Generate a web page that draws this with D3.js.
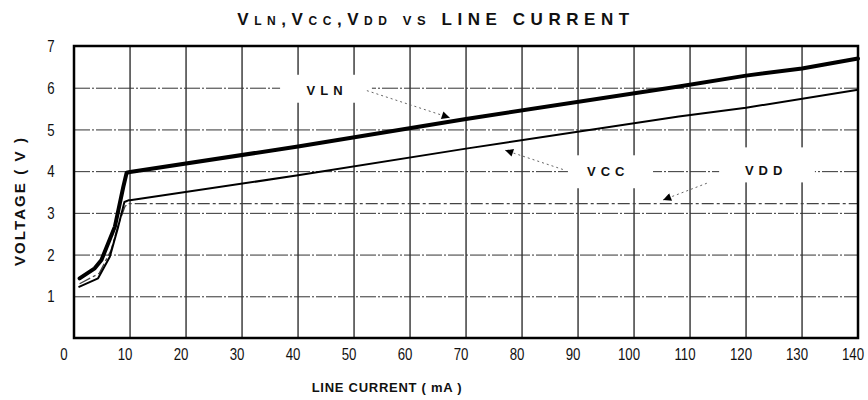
<!DOCTYPE html>
<html>
<head>
<meta charset="utf-8">
<script src="https://cdn.jsdelivr.net/npm/d3@7"></script>
<style>
  body { margin: 0; background: #fff; }
  .num { font-family: "Liberation Sans", Arial, sans-serif; font-size: 17px; fill: #111; }
  .ttl { font-family: "Liberation Sans", Arial, sans-serif; font-weight: bold; fill: #111; }
  .lbl { font-family: "Liberation Sans", Arial, sans-serif; font-weight: bold; font-size: 13px; fill: #111; }
</style>
</head>
<body>
<div id="chart"></div>
<script>
// data
const xTicks = [0, 10, 20, 30, 40, 50, 60, 70, 80, 90, 100, 110, 120, 130, 140];
const yTicks = [1, 2, 3, 4, 5, 6, 7];

const vlnCurrent = [1, 3.7, 4.9, 7.3, 8.8, 9.4, 10, 40, 70, 108, 120, 130, 140];
const vlnVoltage = [1.43, 1.67, 1.87, 2.67, 3.62, 3.96, 3.98, 4.59, 5.25, 6.03, 6.29, 6.46, 6.70];

const vccCurrent = [0.8, 4.3, 6.4, 7.9, 9.0, 9.7, 10, 40, 70, 108, 120, 140];
const vccVoltage = [1.22, 1.43, 1.95, 2.67, 3.26, 3.30, 3.30, 3.90, 4.54, 5.31, 5.52, 5.95];

const vddCurrent = [1, 4.5, 6.6, 8.0, 9.1, 9.6, 140];
const vddVoltage = [1.3, 1.55, 2.1, 2.75, 3.15, 3.22, 3.22];

// annotation labels (in data units)
const labelNames = ['VLN', 'VCC', 'VDD'];
const labelCurrent = [45.2, 95.4, 123.6];
const labelVoltage = [5.93, 3.99, 4.02];
const boxCurrent = [[36.8, 53.2], [88.2, 103.4], [115.2, 132.3]];
const boxVoltage = [[5.64, 6.31], [3.59, 4.38], [3.73, 4.57]];
const arrowFrom = [[52.3, 5.93], [87.3, 4.04], [113.0, 3.71]];
const arrowTo = [[67.1, 5.28], [77.0, 4.5], [105.2, 3.31]];

const width = 868, height = 400;
const margin = { left: 74, right: 10, top: 46, bottom: 62 };

const svg = d3.select('#chart').append('svg')
  .attr('width', width)
  .attr('height', height);

const x = d3.scaleLinear().domain([0, 140]).range([margin.left, width - margin.right]);
const y = d3.scaleLinear().domain([0, 7]).range([height - margin.bottom, margin.top]);

// vertical grid (solid), drawn as thin rects
svg.append('g').selectAll('rect')
  .data(xTicks.slice(1, -1))
  .enter().append('rect')
  .attr('x', d => x(d) - 0.6)
  .attr('y', y(7))
  .attr('width', 1.3)
  .attr('height', y(0) - y(7))
  .attr('fill', '#222');

// horizontal grid (dash-dot)
const gy = svg.append('g')
  .attr('transform', `translate(${x(0)},0)`)
  .call(d3.axisLeft(y).tickValues(yTicks.slice(0, -1)).tickSize(-(x(140) - x(0))).tickFormat(''));
gy.select('.domain').remove();
gy.selectAll('.tick line')
  .attr('stroke', '#333')
  .attr('stroke-width', 1)
  .attr('stroke-dasharray', '16,2,2,2');

// white boxes behind the labels
svg.append('g').selectAll('rect')
  .data(labelNames)
  .enter().append('rect')
  .attr('x', (d, i) => x(boxCurrent[i][0]))
  .attr('width', (d, i) => x(boxCurrent[i][1]) - x(boxCurrent[i][0]))
  .attr('y', (d, i) => y(boxVoltage[i][1]))
  .attr('height', (d, i) => y(boxVoltage[i][0]) - y(boxVoltage[i][1]))
  .attr('fill', '#fff');

// curves
const line = d3.line()
  .x(d => x(d[0]))
  .y(d => y(d[1]));

svg.append('path')
  .datum(d3.zip(vddCurrent, vddVoltage))
  .attr('d', line)
  .attr('fill', 'none')
  .attr('stroke', '#444')
  .attr('stroke-width', 1.3)
  .attr('stroke-dasharray', '12,3,3,3');

svg.append('path')
  .datum(d3.zip(vccCurrent, vccVoltage))
  .attr('d', line)
  .attr('fill', 'none')
  .attr('stroke', '#000')
  .attr('stroke-width', 2)
  .attr('stroke-linejoin', 'round');

svg.append('path')
  .datum(d3.zip(vlnCurrent, vlnVoltage))
  .attr('d', line)
  .attr('fill', 'none')
  .attr('stroke', '#000')
  .attr('stroke-width', 4)
  .attr('stroke-linejoin', 'round')
  .attr('stroke-linecap', 'round');

// frame
svg.append('rect')
  .attr('x', x(0)).attr('y', y(7))
  .attr('width', x(140) - x(0))
  .attr('height', y(0) - y(7))
  .attr('fill', 'none')
  .attr('stroke', '#000')
  .attr('stroke-width', 2.5);

// arrows
const defs = svg.append('defs');
defs.append('marker')
  .attr('id', 'head')
  .attr('viewBox', '0 0 10 10')
  .attr('refX', 10).attr('refY', 5)
  .attr('markerWidth', 11).attr('markerHeight', 8)
  .attr('markerUnits', 'userSpaceOnUse')
  .attr('orient', 'auto')
  .append('path')
  .attr('d', 'M0,0 L10,5 L0,10 Z')
  .attr('fill', '#000');

svg.append('g').selectAll('line')
  .data(labelNames)
  .enter().append('line')
  .attr('x1', (d, i) => x(arrowFrom[i][0]))
  .attr('y1', (d, i) => y(arrowFrom[i][1]))
  .attr('x2', (d, i) => x(arrowTo[i][0]))
  .attr('y2', (d, i) => y(arrowTo[i][1]))
  .attr('stroke', '#666')
  .attr('stroke-width', 1)
  .attr('stroke-dasharray', '2,3')
  .attr('marker-end', 'url(#head)');

svg.append('g').selectAll('text')
  .data(labelNames)
  .enter().append('text')
  .attr('class', 'lbl')
  .attr('x', (d, i) => x(labelCurrent[i]))
  .attr('y', (d, i) => y(labelVoltage[i]))
  .attr('dy', '0.36em')
  .attr('text-anchor', 'middle')
  .style('letter-spacing', '5px')
  .text(d => d);

// tick labels, squeezed horizontally like the narrow face in the scan
svg.append('g').selectAll('text')
  .data(xTicks)
  .enter().append('text')
  .attr('class', 'num')
  .attr('transform', d => `translate(${x(d) - (d === 0 ? 10 : 5)},${y(0) + 22}) scale(0.78,1)`)
  .attr('text-anchor', 'middle')
  .text(d => d);

svg.append('g').selectAll('text')
  .data(yTicks)
  .enter().append('text')
  .attr('class', 'num')
  .attr('transform', d => `translate(51,${y(d)}) scale(0.78,1)`)
  .attr('dy', '0.36em')
  .attr('text-anchor', 'middle')
  .text(d => d);

// stretch a text to a target width via letter-spacing
function fitWidth(sel, target) {
  const node = sel.node();
  const n = node.textContent.length;
  const w = node.getComputedTextLength();
  sel.style('letter-spacing', ((target - w) / (n - 1)) + 'px');
}

// title with small caps subscripts
const title = svg.append('text')
  .attr('class', 'ttl')
  .attr('x', 436)
  .attr('y', 25)
  .attr('text-anchor', 'middle')
  .style('font-size', '17px');
const titleParts = [['V', 17], ['LN', 12], [',', 17], ['V', 17], ['CC', 12], [',', 17], ['V', 17], ['DD', 12], [' ', 17], ['VS', 13], [' LINE CURRENT', 17]];
titleParts.forEach(p => {
  title.append('tspan').style('font-size', p[1] + 'px').text(p[0]);
});
fitWidth(title, 392);

const yTitle = svg.append('text')
  .attr('class', 'ttl')
  .attr('transform', 'translate(25,201) rotate(-90)')
  .attr('text-anchor', 'middle')
  .style('font-size', '15px')
  .text('VOLTAGE ( V )');
fitWidth(yTitle, 128);

const xTitle = svg.append('text')
  .attr('class', 'ttl')
  .attr('x', 387)
  .attr('y', 392)
  .attr('text-anchor', 'middle')
  .style('font-size', '13px')
  .text('LINE CURRENT ( mA )');
fitWidth(xTitle, 150);
</script>
</body>
</html>
